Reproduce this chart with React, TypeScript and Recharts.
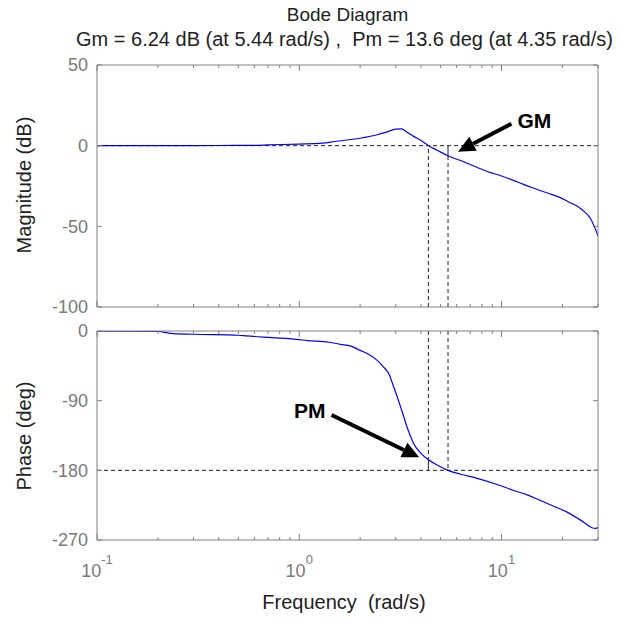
import { LineChart, Line, XAxis, YAxis, ReferenceLine } from 'recharts';

// frequency axis (rad/s)
const FREQ_TICKS = [
  0.1, 0.2, 0.3, 0.4, 0.5, 0.6, 0.7, 0.8, 0.9,
  1, 2, 3, 4, 5, 6, 7, 8, 9,
  10, 20, 30,
];
const MAJOR_TICKS = [0.1, 1, 10];
const MAJOR_EXP: Record<number, string> = { 0.1: '-1', 1: '0', 10: '1' };

const MAG_TICKS = [-100, -50, 0, 50];
const PHASE_TICKS = [-270, -180, -90, 0];

// magnitude response
const magFreq = [
  0.1, 0.2, 0.4, 0.6, 0.7, 1.0, 1.3, 1.5, 2.0, 2.4, 2.7, 3.0, 3.2, 3.4,
  3.7, 4.0, 4.35, 4.8, 5.44, 6.5, 7.5, 8.5, 10, 12, 14, 17, 19, 22, 24,
  26, 27.5, 28.5, 29.3, 30,
];
const magDb = [
  0, 0, 0.1, 0.2, 0.5, 1.0, 1.6, 2.6, 4.6, 6.6, 8.4, 10.3, 10.4, 8.5,
  5.6, 3.2, 0, -2.8, -6.24, -10, -13.2, -16, -18.8, -22.5, -25.8, -29.5, -31.6, -35.5, -38,
  -41.5, -45, -49, -52.5, -56,
];

// phase response
const phaseFreq = [
  0.1, 0.2, 0.23, 0.3, 0.5, 0.55, 0.73, 0.97, 1.1, 1.4, 1.6, 1.8, 2.0, 2.2,
  2.43, 2.6, 2.77, 2.93, 3.05, 3.17, 3.3, 3.41, 3.55, 3.68, 4.0, 4.35, 4.8,
  5.44, 6.3, 7.5, 9.2, 11.5, 13.5, 15.6, 18, 21.1, 25.5, 28.2, 29.2, 30,
];
const phaseDeg = [
  -0.2, -0.6, -3, -4.2, -5.5, -6.4, -8.6, -10.8, -12.4, -14.5, -17.2, -19.5, -25, -30,
  -38, -46, -55, -72, -85, -98, -112, -124, -136, -145.6, -158, -166.4, -173,
  -180, -185, -190, -197, -206, -212, -219, -226, -234, -247, -254.5, -255, -254,
];

// margins
const GM_FREQ = 5.44;
const GM_DB = 6.24;
const PM_FREQ = 4.35;
const PM_DEG = 13.6;

const magData = magFreq.map((w, i) => ({ w, mag: magDb[i] }));
const phaseData = phaseFreq.map((w, i) => ({ w, phase: phaseDeg[i] }));

const AXIS = '#808080';
const TICK_TEXT = '#7a7a7a';
const FONT = '"Liberation Sans", Arial, Helvetica, sans-serif';
const DASH = '4 3';

const xTick = (side: 'bottom' | 'top', showLabel: boolean) => (p: any) => {
  const { x, y, payload } = p;
  const major = MAJOR_TICKS.includes(payload.value);
  const len = major ? 6 : 3;
  const dir = side === 'bottom' ? -1 : 1;
  return (
    <g>
      <line x1={x} x2={x} y1={y} y2={y + dir * len} stroke={AXIS} />
      {showLabel && major && (
        <text x={x} y={y + 37} textAnchor="middle" fill={TICK_TEXT} fontSize={18} fontFamily={FONT}>
          10
          <tspan dy={-13} fontSize={13}>{MAJOR_EXP[payload.value]}</tspan>
        </text>
      )}
    </g>
  );
};

const yTick = (side: 'left' | 'right') => (p: any) => {
  const { x, y, payload } = p;
  const dir = side === 'left' ? 1 : -1;
  return (
    <g>
      <line x1={x} x2={x + dir * 5} y1={y} y2={y} stroke={AXIS} />
      {side === 'left' && (
        <text x={x - 9} y={y} dy="0.35em" textAnchor="end" fill={TICK_TEXT} fontSize={18} fontFamily={FONT}>
          {payload.value}
        </text>
      )}
    </g>
  );
};

const arrowShape = (label: string, dx: number, dy: number, anchor: string) => (p: any) => {
  const { x1, y1, x2, y2 } = p;
  const ang = Math.atan2(y2 - y1, x2 - x1);
  const hl = 17;
  const hw = 8;
  const bx = x2 - hl * Math.cos(ang);
  const by = y2 - hl * Math.sin(ang);
  const nx = -Math.sin(ang);
  const ny = Math.cos(ang);
  return (
    <g>
      <line x1={x1} y1={y1} x2={bx} y2={by} stroke="#000" strokeWidth={4} />
      <polygon
        points={`${x2},${y2} ${bx + nx * hw},${by + ny * hw} ${bx - nx * hw},${by - ny * hw}`}
        fill="#000"
      />
      <text x={x1 + dx} y={y1 + dy} textAnchor={anchor} fontSize={21} fontWeight="bold" fontFamily={FONT} fill="#000">
        {label}
      </text>
    </g>
  );
};

export default function App() {
  // axes are 1px thick (recharts skips 0-size axes); margins make up the rest
  const xCommon = {
    type: 'number' as const,
    dataKey: 'w',
    scale: 'log' as const,
    domain: [0.1, 30],
    ticks: FREQ_TICKS,
    interval: 0 as const,
    allowDataOverflow: true,
    height: 1,
    tickSize: 0,
    tickMargin: 0,
    axisLine: { stroke: AXIS, strokeWidth: 1 },
  };
  const yCommon = {
    type: 'number' as const,
    interval: 0 as const,
    allowDataOverflow: true,
    width: 1,
    tickSize: 0,
    tickMargin: 0,
    axisLine: { stroke: AXIS, strokeWidth: 1 },
  };

  return (
    <div style={{ position: 'absolute', left: 0, top: 0, width: 618, height: 619, background: '#fff', fontFamily: FONT }}>
      {/* Magnitude */}
      <div style={{ position: 'absolute', left: 0, top: 0 }}>
        <LineChart width={618} height={330} data={magData} margin={{ top: 64, right: 19, bottom: 22, left: 96 }}>
          <XAxis xAxisId="b" orientation="bottom" {...xCommon} tick={xTick('bottom', false)} />
          <XAxis xAxisId="t" orientation="top" {...xCommon} tick={xTick('top', false)} />
          <YAxis yAxisId="l" orientation="left" {...yCommon} domain={[-100, 50]} ticks={MAG_TICKS} tick={yTick('left')} />
          <YAxis yAxisId="r" orientation="right" {...yCommon} domain={[-100, 50]} ticks={MAG_TICKS} tick={yTick('right')} />
          <ReferenceLine xAxisId="b" yAxisId="l" y={0} stroke="#222" strokeDasharray={DASH} />
          <ReferenceLine
            xAxisId="b" yAxisId="l"
            segment={[{ x: PM_FREQ, y: -100 }, { x: PM_FREQ, y: 0 }]}
            stroke="#222" strokeDasharray={DASH}
          />
          <ReferenceLine
            xAxisId="b" yAxisId="l"
            segment={[{ x: GM_FREQ, y: -100 }, { x: GM_FREQ, y: -GM_DB }]}
            stroke="#222" strokeDasharray={DASH}
          />
          <ReferenceLine
            xAxisId="b" yAxisId="l"
            segment={[{ x: GM_FREQ, y: -GM_DB }, { x: GM_FREQ, y: 0 }]}
            stroke="#222"
          />
          <Line
            xAxisId="b" yAxisId="l"
            dataKey="mag" type="monotone" stroke="#0000ff" strokeWidth={1.2}
            dot={false} isAnimationActive={false}
          />
          <ReferenceLine
            xAxisId="b" yAxisId="l"
            segment={[{ x: 11.2, y: 13.6 }, { x: 6.09, y: -3.7 }]}
            shape={arrowShape('GM', 6, 4, 'start')}
          />
        </LineChart>
      </div>

      {/* Phase */}
      <div style={{ position: 'absolute', left: 0, top: 318 }}>
        <LineChart width={618} height={301} data={phaseData} margin={{ top: 12, right: 19, bottom: 78, left: 96 }}>
          <XAxis xAxisId="b" orientation="bottom" {...xCommon} tick={xTick('bottom', true)} />
          <XAxis xAxisId="t" orientation="top" {...xCommon} tick={xTick('top', false)} />
          <YAxis yAxisId="l" orientation="left" {...yCommon} domain={[-270, 0]} ticks={PHASE_TICKS} tick={yTick('left')} />
          <YAxis yAxisId="r" orientation="right" {...yCommon} domain={[-270, 0]} ticks={PHASE_TICKS} tick={yTick('right')} />
          <ReferenceLine xAxisId="b" yAxisId="l" y={-180} stroke="#222" strokeDasharray={DASH} />
          <ReferenceLine
            xAxisId="b" yAxisId="l"
            segment={[{ x: PM_FREQ, y: 0 }, { x: PM_FREQ, y: -180 + PM_DEG }]}
            stroke="#222" strokeDasharray={DASH}
          />
          <ReferenceLine
            xAxisId="b" yAxisId="l"
            segment={[{ x: PM_FREQ, y: -180 + PM_DEG }, { x: PM_FREQ, y: -180 }]}
            stroke="#222"
          />
          <ReferenceLine
            xAxisId="b" yAxisId="l"
            segment={[{ x: GM_FREQ, y: 0 }, { x: GM_FREQ, y: -180 }]}
            stroke="#222" strokeDasharray={DASH}
          />
          <Line
            xAxisId="b" yAxisId="l"
            dataKey="phase" type="monotone" stroke="#0000ff" strokeWidth={1.2}
            dot={false} isAnimationActive={false}
          />
          <ReferenceLine
            xAxisId="b" yAxisId="l"
            segment={[{ x: 1.445, y: -108.5 }, { x: 3.92, y: -163.2 }]}
            shape={arrowShape('PM', -6, 3, 'end')}
          />
        </LineChart>
      </div>

      {/* titles and axis labels */}
      <svg width={618} height={619} style={{ position: 'absolute', left: 0, top: 0, pointerEvents: 'none' }}>
        <g fontFamily={FONT} fill="#222" textAnchor="middle">
          <text x={347.5} y={21} fontSize={19}>Bode Diagram</text>
          <text x={344.5} y={46} fontSize={20} style={{ whiteSpace: 'pre' }}>
            {'Gm = 6.24 dB (at 5.44 rad/s) ,  Pm = 13.6 deg (at 4.35 rad/s)'}
          </text>
          <text x={344} y={609} fontSize={20} style={{ whiteSpace: 'pre' }}>
            {'Frequency  (rad/s)'}
          </text>
          <text transform="translate(31,185) rotate(-90)" fontSize={20}>Magnitude (dB)</text>
          <text transform="translate(31,436) rotate(-90)" fontSize={20}>Phase (deg)</text>
        </g>
      </svg>
    </div>
  );
}
